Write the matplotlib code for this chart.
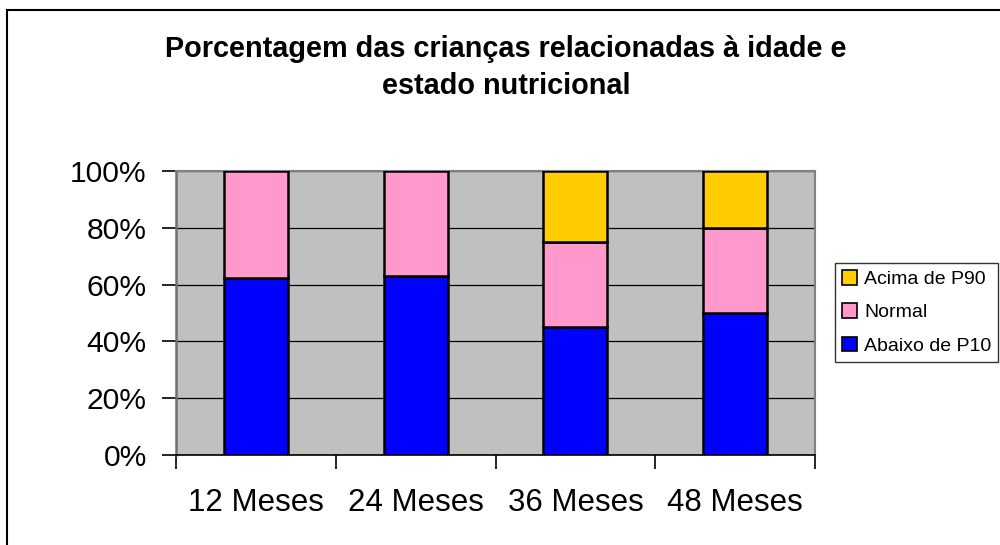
import matplotlib
matplotlib.use("Agg")
import matplotlib.pyplot as plt
from matplotlib.patches import Patch
from matplotlib.lines import Line2D
import numpy as np

plt.rcParams['font.family'] = ['Liberation Sans', 'DejaVu Sans']

categories = ["12 Meses", "24 Meses", "36 Meses", "48 Meses"]
abaixo_p10 = [62.5, 63.0, 45.0, 50.0]
normal = [37.5, 37.0, 30.0, 30.0]
acima_p90 = [0.0, 0.0, 25.0, 20.0]
yticks = [0, 20, 40, 60, 80, 100]
ytick_labels = ["0%", "20%", "40%", "60%", "80%", "100%"]
title_lines = ["Porcentagem das crianças relacionadas à idade e", "estado nutricional"]

c_blue = "#0000FF"
c_pink = "#FF99CC"
c_yellow = "#FFCC00"

fig = plt.figure(figsize=(10, 5.45), dpi=100)
ax = fig.add_axes([0.176, 0.1651, 0.639, 0.5211])
ax.set_facecolor("#C0C0C0")

x = np.arange(len(categories))
w = 0.40
bottom = np.zeros(len(categories))
series = [(abaixo_p10, c_blue, "Abaixo de P10"),
          (normal, c_pink, "Normal"),
          (acima_p90, c_yellow, "Acima de P90")]
for vals, col, lab in series:
    v = np.array(vals)
    mask = v > 0
    ax.bar(x[mask], v[mask], width=w, bottom=bottom[mask], color=col,
           edgecolor="black", linewidth=1.8, zorder=3, label=lab)
    bottom = bottom + v

ax.set_xlim(-0.5, len(categories) - 0.5)
ax.set_ylim(0, 100)
ax.set_yticks(yticks)
ax.set_yticklabels(ytick_labels)
ax.yaxis.grid(True, color="black", linewidth=0.9, zorder=1)
ax.set_axisbelow(True)

ax.set_xticks(x)
ax.set_xticklabels(categories)
ax.set_xticks(np.arange(-0.5, len(categories), 1.0), minor=True)
ax.tick_params(axis="x", which="major", length=0, pad=23.5, labelsize=22.5)
ax.tick_params(axis="x", which="minor", length=10, width=1.2, color="black", direction="out")
ax.tick_params(axis="y", length=10, width=1.2, color="black", pad=11, labelsize=21.6)

for s in ["top", "right"]:
    ax.spines[s].set_color("#808080")
    ax.spines[s].set_linewidth(1.5)
ax.spines["left"].set_color("#707070")
ax.spines["left"].set_linewidth(1.8)
ax.spines["bottom"].set_color("black")
ax.spines["bottom"].set_linewidth(1.2)

fig.text(0.506, 1 - 57 / 545, title_lines[0], ha="center", va="baseline",
         fontsize=20.8, fontweight="bold")
fig.text(0.506, 1 - 94 / 545, title_lines[1], ha="center", va="baseline",
         fontsize=20.8, fontweight="bold")

handles = [Patch(facecolor=c_yellow, edgecolor="black", linewidth=1.2, label="Acima de P90"),
           Patch(facecolor=c_pink, edgecolor="black", linewidth=1.2, label="Normal"),
           Patch(facecolor=c_blue, edgecolor="black", linewidth=1.2, label="Abaixo de P10")]
leg = fig.legend(handles=handles, loc="upper left", bbox_to_anchor=(0.835, 1 - 263 / 545),
                 fontsize=14, frameon=True, fancybox=False, shadow=False,
                 handlelength=0.8, handleheight=0.8, handletextpad=0.35,
                 labelspacing=0.78, borderpad=0.35, borderaxespad=0)
leg.get_frame().set_edgecolor("black")
leg.get_frame().set_linewidth(1.0)

# outer chart border (left and top visible)
fig.add_artist(Line2D([0.007, 0.007], [0, 1 - 10 / 545], color="black", linewidth=1.5,
                      transform=fig.transFigure))
fig.add_artist(Line2D([0.007, 1.0], [1 - 10 / 545, 1 - 10 / 545], color="black", linewidth=1.5,
                      transform=fig.transFigure))

fig.savefig("out.png", dpi=100)
